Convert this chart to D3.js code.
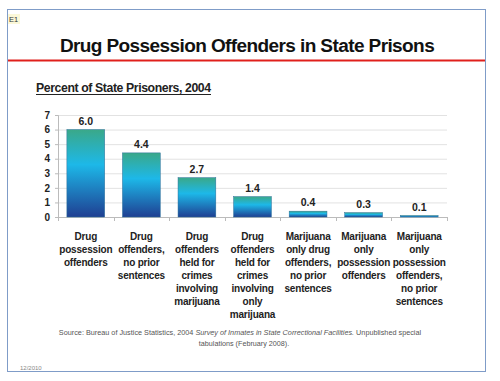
<!DOCTYPE html>
<html>
<head>
<meta charset="utf-8">
<script src="https://cdn.jsdelivr.net/npm/d3@7"></script>
<style>
  body { margin: 0; background: #fff; }
  svg { display: block; font-family: "Liberation Sans", Arial, sans-serif; }
</style>
</head>
<body>
<svg id="chart"></svg>
<script>
// Drug possession offenders in state prisons, 2004

const categories = [
  ["Drug", "possession", "offenders"],
  ["Drug", "offenders,", "no prior", "sentences"],
  ["Drug", "offenders", "held for", "crimes", "involving", "marijuana"],
  ["Drug", "offenders", "held for", "crimes", "involving", "only", "marijuana"],
  ["Marijuana", "only drug", "offenders,", "no prior", "sentences"],
  ["Marijuana", "only", "possession", "offenders"],
  ["Marijuana", "only", "possession", "offenders,", "no prior", "sentences"]
];
const values = [6.0, 4.4, 2.7, 1.4, 0.4, 0.3, 0.1];
const yTicks = [0, 1, 2, 3, 4, 5, 6, 7];

const W = 500, H = 381;
const M = { top: 115, right: 53, bottom: 164, left: 58 };
const innerW = W - M.left - M.right;
const innerH = H - M.top - M.bottom;

const svg = d3.select("#chart").attr("width", W).attr("height", H);

// shrink a text's font until it fits the wanted width
function fitWidth(sel, width, size) {
  const n = sel.node();
  const w = n.getComputedTextLength();
  sel.attr("font-size", size * width / w);
}

// gradient for the bars
const defs = svg.append("defs");
const grad = defs.append("linearGradient")
  .attr("id", "barGrad").attr("x1", 0).attr("y1", 0).attr("x2", 0).attr("y2", 1);
grad.append("stop").attr("offset", "0%").attr("stop-color", "#3aa889");
grad.append("stop").attr("offset", "40%").attr("stop-color", "#1db8e8");
grad.append("stop").attr("offset", "100%").attr("stop-color", "#1f3f92");

// frame
svg.append("rect")
  .attr("x", 7.5).attr("y", 9.5).attr("width", 478).attr("height", 362)
  .attr("fill", "#fff").attr("stroke", "#7f9cc8").attr("stroke-width", 1);

// E1 tag
svg.append("rect")
  .attr("x", 8).attr("y", 14).attr("width", 12).attr("height", 10)
  .attr("fill", "#fbf8d8");
svg.append("text")
  .attr("x", 9).attr("y", 22)
  .attr("font-size", 7.5).attr("fill", "#333")
  .text("E1");

// title + red rule
const title = svg.append("text")
  .attr("x", 247).attr("y", 52)
  .attr("text-anchor", "middle")
  .attr("font-size", 22).attr("font-weight", 700).attr("fill", "#111")
  .attr("letter-spacing", "-0.6")
  .text("Drug Possession Offenders in State Prisons");
fitWidth(title, 378, 22);

svg.append("line")
  .attr("x1", 8).attr("x2", 485).attr("y1", 60.5).attr("y2", 60.5)
  .attr("stroke", "#e0201c").attr("stroke-width", 2);

// subtitle
const sub = svg.append("text")
  .attr("x", 36).attr("y", 92)
  .attr("font-size", 12.5).attr("font-weight", 700).attr("fill", "#222")
  .attr("letter-spacing", "-0.4")
  .text("Percent of State Prisoners, 2004");
fitWidth(sub, 175, 12.5);
svg.append("line")
  .attr("x1", 36).attr("x2", 211).attr("y1", 94.5).attr("y2", 94.5)
  .attr("stroke", "#222").attr("stroke-width", 1);

const g = svg.append("g").attr("transform", `translate(${M.left},${M.top})`);

const x = d3.scaleBand().domain(d3.range(values.length)).range([0, innerW])
  .paddingInner(0.32).paddingOuter(0.16);
const y = d3.scaleLinear().domain([0, 7]).range([innerH, 0]);

// gridlines
g.append("g")
  .selectAll("line").data(yTicks.slice(1)).join("line")
  .attr("x1", 0).attr("x2", innerW)
  .attr("y1", d => y(d) + 0.5).attr("y2", d => y(d) + 0.5)
  .attr("stroke", "#e2e2e2");

// y axis
const yAxis = g.append("g")
  .call(d3.axisLeft(y).tickValues(yTicks).tickFormat(d3.format("d"))
    .tickSize(3).tickPadding(5));
yAxis.select(".domain").attr("stroke", "#bbb");
yAxis.selectAll(".tick line").attr("stroke", "#bbb");
yAxis.selectAll("text")
  .attr("font-size", 10).attr("font-weight", 700).attr("fill", "#222")
  .attr("font-family", "Liberation Sans, Arial, sans-serif");

// x axis line with boundary ticks
g.append("line")
  .attr("x1", 0).attr("x2", innerW)
  .attr("y1", innerH + 0.5).attr("y2", innerH + 0.5)
  .attr("stroke", "#bbb");
const step = x.step();
const x0 = x(0) - x.paddingInner() * step / 2;
g.append("g").selectAll("line").data(d3.range(values.length + 1)).join("line")
  .attr("x1", i => Math.round(x0 + i * step) + 0.5)
  .attr("x2", i => Math.round(x0 + i * step) + 0.5)
  .attr("y1", innerH).attr("y2", innerH + 4)
  .attr("stroke", "#bbb");

// bars
g.selectAll("rect.bar").data(values).join("rect")
  .attr("class", "bar")
  .attr("x", (d, i) => x(i)).attr("width", x.bandwidth())
  .attr("y", d => y(d)).attr("height", d => y(0) - y(d))
  .attr("fill", "url(#barGrad)")
  .attr("stroke", "#2a6f9a").attr("stroke-width", 0.5);

// value labels
g.selectAll("text.val").data(values).join("text")
  .attr("class", "val")
  .attr("x", (d, i) => x(i) + x.bandwidth() / 2)
  .attr("y", d => y(d) - 5)
  .attr("text-anchor", "middle")
  .attr("font-size", 10.5).attr("font-weight", 700).attr("fill", "#222")
  .text(d => d.toFixed(1));

// category labels
const cats = g.selectAll("text.cat").data(categories).join("text")
  .attr("class", "cat")
  .attr("text-anchor", "middle")
  .attr("font-size", 10).attr("font-weight", 700).attr("fill", "#222")
  .attr("letter-spacing", "-0.2");
cats.selectAll("tspan").data((d, i) => d.map(t => ({ t, i }))).join("tspan")
  .attr("x", d => x(d.i) + x.bandwidth() / 2)
  .attr("y", (d, j) => innerH + 23 + j * 13)
  .text(d => d.t);

// source note
const src = svg.append("text")
  .attr("x", 240).attr("y", 335)
  .attr("text-anchor", "middle")
  .attr("font-size", 7.2).attr("fill", "#555");
src.append("tspan").text("Source:  Bureau of Justice Statistics, 2004  ");
src.append("tspan").attr("font-style", "italic").text("Survey of Inmates in State Correctional Facilities.");
src.append("tspan").text("  Unpublished special");
fitWidth(src, 362, 7.2);
svg.append("text")
  .attr("x", 244).attr("y", 346)
  .attr("text-anchor", "middle")
  .attr("font-size", 7.2).attr("fill", "#555")
  .text("tabulations (February 2008).");

svg.append("text")
  .attr("x", 20).attr("y", 370)
  .attr("font-size", 6).attr("fill", "#888")
  .text("12/2010");
</script>
</body>
</html>
